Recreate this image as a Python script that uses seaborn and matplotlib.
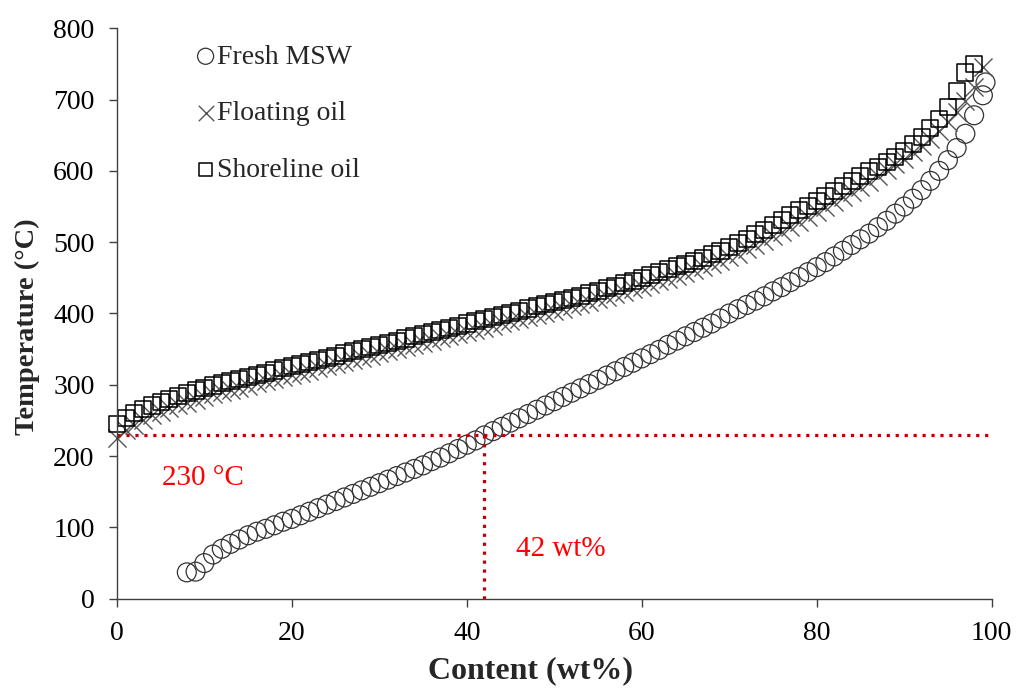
import matplotlib
matplotlib.use('Agg')
import matplotlib.pyplot as plt
import seaborn as sns

# Fresh MSW (circles)
msw_content = [8, 9, 10, 11, 12, 13, 14, 15, 16, 17, 18, 19, 20, 21, 22, 23, 24, 25, 26, 27,
               28, 29, 30, 31, 32, 33, 34, 35, 36, 37, 38, 39, 40, 41, 42, 43, 44, 45, 46, 47,
               48, 49, 50, 51, 52, 53, 54, 55, 56, 57, 58, 59, 60, 61, 62, 63, 64, 65, 66, 67,
               68, 69, 70, 71, 72, 73, 74, 75, 76, 77, 78, 79, 80, 81, 82, 83, 84, 85, 86, 87,
               88, 89, 90, 91, 92, 93, 94, 95, 96, 97, 98, 99, 99.3]
msw_temp = [37, 38, 50, 62, 70, 77, 83, 89, 94, 98, 103, 108, 112, 117, 122, 127, 132, 137, 142, 147,
            152, 157, 162, 167, 172, 177, 182, 187, 193, 198, 204, 210, 216, 222, 229, 235, 241, 247, 253, 259,
            265, 271, 277, 283, 289, 295, 301, 307, 313, 319, 325, 331, 337, 343, 349, 356, 362, 368, 374, 380,
            386, 393, 400, 406, 412, 418, 424, 431, 437, 444, 451, 458, 465, 472, 480, 488, 496, 504, 512, 521,
            530, 540, 550, 561, 573, 586, 600, 615, 632, 652, 678, 706, 724]

# Floating oil (crosses)
float_content = [0, 1, 2, 3, 4, 5, 6, 7, 8, 9, 10, 11, 12, 13, 14, 15, 16, 17, 18, 19,
                 20, 21, 22, 23, 24, 25, 26, 27, 28, 29, 30, 31, 32, 33, 34, 35, 36, 37, 38, 39,
                 40, 41, 42, 43, 44, 45, 46, 47, 48, 49, 50, 51, 52, 53, 54, 55, 56, 57, 58, 59,
                 60, 61, 62, 63, 64, 65, 66, 67, 68, 69, 70, 71, 72, 73, 74, 75, 76, 77, 78, 79,
                 80, 81, 82, 83, 84, 85, 86, 87, 88, 89, 90, 91, 92, 93, 94, 95, 96, 97, 98, 99]
float_temp = [225, 236, 244, 251, 257, 262, 267, 271, 275, 279, 283, 287, 290, 293, 296, 299, 302, 305, 308, 311,
              314, 317, 320, 323, 326, 329, 332, 335, 338, 341, 344, 347, 350, 353, 356, 359, 362, 365, 368, 371,
              374, 377, 380, 383, 386, 389, 392, 395, 398, 401, 404, 407, 410, 413, 416, 420, 423, 427, 430, 434,
              437, 441, 445, 449, 453, 457, 461, 465, 470, 474, 479, 484, 490, 496, 502, 508, 514, 521, 528, 535,
              542, 549, 556, 563, 570, 577, 585, 593, 601, 609, 617, 626, 635, 645, 656, 668, 682, 698, 718, 745]

# Shoreline oil (squares)
shore_content = [0, 1, 2, 3, 4, 5, 6, 7, 8, 9, 10, 11, 12, 13, 14, 15, 16, 17, 18, 19,
                 20, 21, 22, 23, 24, 25, 26, 27, 28, 29, 30, 31, 32, 33, 34, 35, 36, 37, 38, 39,
                 40, 41, 42, 43, 44, 45, 46, 47, 48, 49, 50, 51, 52, 53, 54, 55, 56, 57, 58, 59,
                 60, 61, 62, 63, 64, 65, 66, 67, 68, 69, 70, 71, 72, 73, 74, 75, 76, 77, 78, 79,
                 80, 81, 82, 83, 84, 85, 86, 87, 88, 89, 90, 91, 92, 93, 94, 95, 96, 97, 98]
shore_temp = [245, 253, 260, 266, 271, 276, 280, 284, 288, 292, 296, 299, 302, 305, 308, 311, 314, 317, 320, 323,
              326, 329, 332, 335, 338, 341, 344, 347, 350, 353, 356, 359, 362, 365, 368, 371, 374, 377, 380, 383,
              386, 389, 392, 395, 398, 401, 404, 407, 410, 413, 416, 419, 422, 425, 429, 432, 436, 439, 443, 446,
              450, 454, 458, 462, 466, 470, 474, 478, 483, 488, 493, 499, 505, 511, 517, 524, 531, 538, 545, 551,
              558, 565, 572, 579, 586, 593, 600, 606, 612, 620, 628, 638, 648, 660, 673, 690, 712, 738, 750]

threshold_temp = 230
threshold_content = 42

sns.set_style('ticks')
plt.rcParams['font.family'] = ['Liberation Serif', 'DejaVu Serif']

fig, ax = plt.subplots(figsize=(10.16, 6.89), dpi=100)
fig.subplots_adjust(left=0.115, right=0.976, top=0.959, bottom=0.131)

sns.scatterplot(x=msw_content, y=msw_temp, marker='o', s=185, facecolors='none',
                edgecolor='#333333', linewidth=0.9, label='Fresh MSW', clip_on=False, ax=ax)
sns.scatterplot(x=float_content, y=float_temp, marker='x', s=170, color='#555555',
                linewidth=1.0, label='Floating oil', clip_on=False, ax=ax)
sns.scatterplot(x=shore_content, y=shore_temp, marker='s', s=135, facecolors='none',
                edgecolor='black', linewidth=1.1, label='Shoreline oil', clip_on=False, ax=ax)

red = '#C00000'
ax.hlines(threshold_temp, 0, 100, colors=red, linestyles=(0, (1, 1.8)), linewidth=2.3, zorder=1)
ax.vlines(threshold_content, 0, threshold_temp, colors=red, linestyles=(0, (1, 1.8)), linewidth=2.3, zorder=1)
ax.text(5.2, 170, '230 °C', color='red', fontsize=21, va='center', ha='left')
ax.text(45.6, 70, '42 wt%', color='red', fontsize=21, va='center', ha='left')

ax.set_xlim(0, 100)
ax.set_ylim(0, 800)
ax.set_xticks(range(0, 101, 20))
ax.set_yticks(range(0, 801, 100))
ax.tick_params(direction='out', length=6, width=1, colors='#404040', labelsize=20,
               labelcolor='black', pad=10)
for side in ['left', 'bottom']:
    ax.spines[side].set_color('#404040')
    ax.spines[side].set_linewidth(1)
sns.despine(ax=ax)

ax.set_xlabel('Content (wt%)', fontsize=23, fontweight='bold')
ax.set_ylabel('Temperature (°C)', fontsize=20.5, fontweight='bold')
ax.xaxis.set_label_coords(0.473, -0.1)
ax.yaxis.set_label_coords(-0.088, 0.476)

ax.legend(loc='upper left', bbox_to_anchor=(0.057, 1.016), frameon=False, fontsize=20,
          markerscale=0.85, handletextpad=-0.1, labelspacing=1.12, handlelength=1.0)

plt.savefig('out.png', dpi=100)
